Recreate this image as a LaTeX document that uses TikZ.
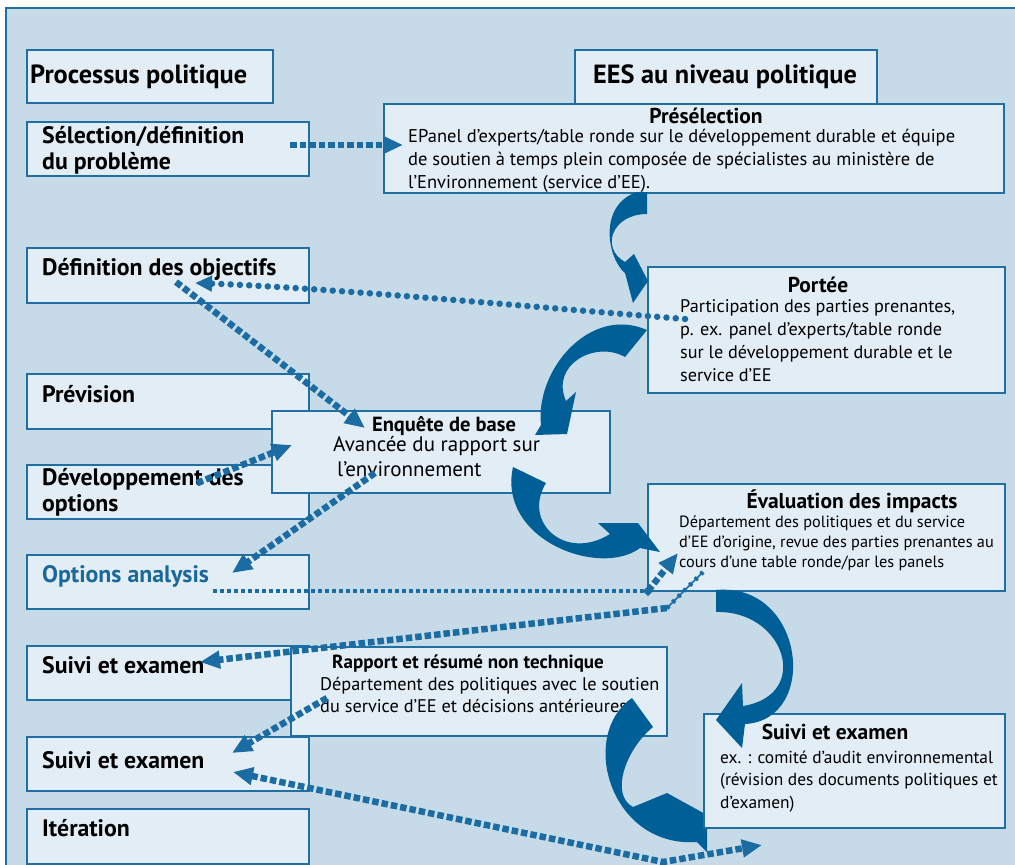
\documentclass[tikz,border=0pt]{standalone}
\usepackage{fontspec}
\setmainfont{PT Sans}
\usetikzlibrary{arrows.meta}
\definecolor{framebg}{HTML}{C6DAE8}
\definecolor{boxbg}{HTML}{E2EDF5}
\definecolor{boxline}{HTML}{1F6FA3}
\definecolor{flow}{HTML}{005F96}
\definecolor{link}{HTML}{1B6CA2}
\definecolor{optblue}{HTML}{1A6799}
\begin{document}
\begin{tikzpicture}[x=1pt,y=-1pt,
  box/.style={draw=boxline, fill=boxbg, line width=2pt, inner sep=0pt, anchor=north west},
  % multi-line texts are anchored at the baseline of their last line
  lbl/.style={anchor=base west, inner sep=0pt, align=left, font=\bfseries\fontsize{23.8}{26}\selectfont},
  toplbl/.style={anchor=base, inner sep=0pt, font=\bfseries\fontsize{26.3}{28}\selectfont},
  hd/.style={anchor=base, inner sep=0pt, font=\bfseries\fontsize{21.5}{24}\selectfont},
  body/.style={anchor=base west, inner sep=0pt, align=left},
  flowarrow/.style={fill=flow, draw=none},
  bigdash/.style={draw=link, line width=6.5pt, dash pattern=on 6.5pt off 3pt},
  smalldash/.style={draw=link, line width=3.5pt, dash pattern=on 4pt off 3pt},
  dotline/.style={draw=link, line width=6.5pt, dash pattern=on 0pt off 9.3pt, line cap=round},
  tip/.style={-{Triangle[length=20pt,width=17pt]}},
  tips/.style={{Triangle[length=20pt,width=17pt]}-{Triangle[length=20pt,width=17pt]}},
]
\useasboundingbox (0,0) rectangle (1015,865);
\clip (0,0) rectangle (1015,865);
\fill[white] (0,0) rectangle (1015,865);
\draw[fill=framebg, draw=boxline, line width=2pt] (6,8) rectangle (1040,890);

% policy process column
\node[box, minimum width=246pt, minimum height=53pt] (proc) at (26,49) {};
\node[lbl, font=\bfseries\fontsize{26.3}{28}\selectfont] (proc-t) at (30,83) {Processus politique};
\node[box, minimum width=282pt, minimum height=54pt] (sel) at (26,121) {};
\node[lbl] (sel-t) at (42,169) {Sélection/définition\\du problème};
\node[box, minimum width=282pt, minimum height=55pt] (obj) at (26,247) {};
\node[lbl] (obj-t) at (42,275) {Définition des objectifs};
\node[box, minimum width=282pt, minimum height=55pt] (prev) at (26,373) {};
\node[lbl] (prev-t) at (42,402) {Prévision};
\node[box, minimum width=282pt, minimum height=54pt] (dev) at (26,464) {};
\node[lbl] (dev-t) at (42,511) {Développement des\\options};
\node[box, minimum width=282pt, minimum height=54pt] (opt) at (26,554) {};
\node[lbl, text=optblue] (opt-t) at (42,582) {Options analysis};
\node[box, minimum width=282pt, minimum height=54pt] (sv1) at (26,645) {};
\node[lbl] (sv1-t) at (42,673) {Suivi et examen};
\node[box, minimum width=282pt, minimum height=54pt] (sv2) at (26,736) {};
\node[lbl] (sv2-t) at (42,768) {Suivi et examen};
\node[box, minimum width=282pt, minimum height=55pt] (iter) at (26,808) {};
\node[lbl] (iter-t) at (42,836) {Itération};

% SEA column
\node[box, minimum width=620pt, minimum height=89pt] (pre) at (383,103) {};
\node[box, minimum width=302pt, minimum height=54pt] (ees) at (574,49) {};
\node[toplbl] (ees-t) at (725,83) {EES au niveau politique};
\node[hd] (pre-h) at (706,123) {Présélection};
\node[body, font=\fontsize{18.5}{23}\selectfont] (pre-t) at (408,188)
  {EPanel d’experts/table ronde sur le développement durable et équipe\\de soutien à temps plein composée de spécialistes au ministère de\\l’Environnement (service d’EE).};

\node[box, minimum width=357pt, minimum height=126pt] (por) at (647,266) {};
\node[hd] (por-h) at (818,292) {Portée};
\node[body, font=\fontsize{18.2}{22.7}\selectfont] (por-t) at (680,381)
  {Participation des parties prenantes,\\p. ex. panel d’experts/table ronde\\sur le développement durable et le\\service d’EE};

\node[box, minimum width=338pt, minimum height=82pt] (enq) at (271,410) {};
\node[hd, font=\bfseries\fontsize{20.5}{24}\selectfont] (enq-h) at (444,431) {Enquête de base};
\node[body, font=\fontsize{21}{25}\selectfont] (enq-t) at (333,476)
  {Avancée du rapport sur\\\hspace*{4pt}l’environnement};

\node[box, minimum width=357pt, minimum height=107pt] (eva) at (647,483) {};
\node[hd] (eva-h) at (852,508) {Évaluation des impacts};
\node[body, font=\fontsize{16.3}{20}\selectfont] (eva-t) at (679,567)
  {Département des politiques et du service\\d’EE d’origine, revue des parties prenantes au\\cours d’une table ronde/par les panels};

\node[box, minimum width=376pt, minimum height=89pt] (rap) at (290,646) {};
\node[hd, font=\bfseries\fontsize{19}{22}\selectfont] (rap-h) at (468,668) {Rapport et résumé non technique};
\node[body, font=\fontsize{18.3}{22}\selectfont] (rap-t) at (320,712)
  {Département des politiques avec le soutien\\du service d’EE et décisions antérieures};

% curved flow arrow from the report to follow-up (its head runs under the box)
\fill[flowarrow] (632,698) -- (653,727) .. controls (625,750) and (610,795) .. (633,807)
  -- (667,793) -- (707,815) -- (707,852) -- (697,842)
  .. controls (610,848) and (578,735) .. (632,698) -- cycle;

\node[box, minimum width=301pt, minimum height=114pt] (svr) at (703,713) {};
\node[hd] (svr-h) at (835,739) {Suivi et examen};
\node[body, font=\fontsize{17.4}{22.7}\selectfont] (svr-t) at (720,808.4)
  {ex. : comité d’audit environnemental\\(révision des documents politiques et\\d’examen)};

% curved flow arrows between the SEA stages
\fill[flowarrow] (647,192) -- (647,214) .. controls (612,214) and (600,248) .. (625,262)
  -- (634,254) -- (648,281) -- (633,303) -- (625,273)
  .. controls (607,258) and (598,205) .. (637,192) -- cycle;
\fill[flowarrow] (647,330) -- (625,357) .. controls (595,340) and (550,365) .. (566,401)
  -- (576,392) -- (567,434) -- (535,435) -- (541,425)
  .. controls (535,370) and (590,305) .. (647,330) -- cycle;
\fill[flowarrow] (513,467) -- (546,483) .. controls (522,522) and (565,562) .. (610,534)
  -- (598,523) -- (638,523) -- (660,552) -- (640,548)
  .. controls (600,578) and (497,540) .. (513,467) -- cycle;
\fill[flowarrow] (716,590) -- (716,612) .. controls (785,610) and (812,695) .. (743,706)
  -- (742,683) -- (716,720) -- (742,748) -- (745,724)
  .. controls (820,720) and (805,582) .. (716,590) -- cycle;

% links between the policy process and the SEA stages
\coordinate (l1a) at (290,145); \coordinate (l1b) at (403,145);
\draw[bigdash, tip] (l1a) -- (l1b);
\coordinate (l2a) at (685,319); \coordinate (l2b) at (195,283);
\draw[dotline, -{Triangle[length=17pt,width=15pt]}] (l2a) .. controls (520,306) and (330,288) .. (l2b);
\coordinate (l3a) at (176,282); \coordinate (l3b) at (365,428);
\draw[bigdash, tip] (l3a) -- (l3b);
\coordinate (l4a) at (197,483); \coordinate (l4b) at (292,445);
\draw[bigdash, tip] (l4a) -- (l4b);
\coordinate (l5a) at (375,473); \coordinate (l5b) at (232,573);
\draw[bigdash, tip] (l5a) -- (l5b);
\coordinate (l6a) at (213,591); \coordinate (l6m) at (648,591); \coordinate (l6b) at (678,553);
\draw[smalldash] (l6a) -- (l6m);
\fill[link] (648,586) -- (653,591) -- (648,596) -- (643,591) -- cycle;
\draw[bigdash, tip] (l6m) -- (l6b);
\coordinate (l7a) at (703,572); \coordinate (l7m) at (667,608); \coordinate (l7b) at (200,662);
\draw[link, line width=1.5pt] (l7a) -- (l7m);
\draw[link, line width=4.5pt, dash pattern=on 3pt off 5pt] (l7a) -- (l7m);
\draw[bigdash, tip] (l7m) -- (l7b);
\coordinate (l8a) at (327,698); \coordinate (l8b) at (232,753);
\draw[bigdash, tip] (l8a) -- (l8b);
\coordinate (l9a) at (233,772); \coordinate (l9m) at (663,862); \coordinate (l9b) at (762,845);
\draw[bigdash, tips] (l9a) -- (l9m) -- (l9b);
\end{tikzpicture}
\end{document}
